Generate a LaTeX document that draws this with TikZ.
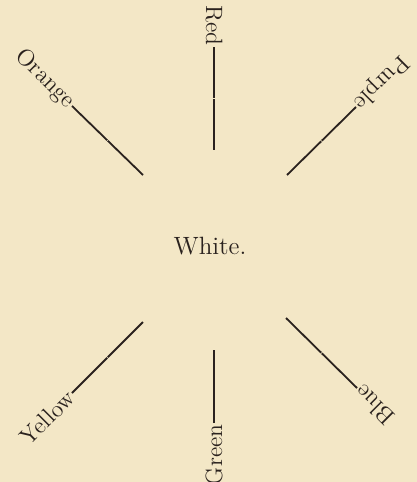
\documentclass[tikz,border=0pt]{standalone}
\usepackage{tikz}
\usetikzlibrary{calc}
\definecolor{paper}{HTML}{F3E7C6}
\definecolor{ink}{HTML}{2A221E}

\begin{document}
\begin{tikzpicture}[x=0.5pt,y=-0.5pt,
  lab/.style={anchor=east,inner sep=0.6pt,font=\fontsize{11.8}{13}\selectfont,text=ink},
  ray/.style={draw=ink,line width=0.9pt}]
\fill[paper] (0,0) rectangle (417,482);
\useasboundingbox (0,0) rectangle (417,482);
\node[font=\fontsize{12.5}{14}\selectfont,text=ink] (white) at (210,246) {White.};
% inner ends of the rays
\coordinate (red-in) at (214,150);
\coordinate (orange-in) at (143,175);
\coordinate (purple-in) at (287,175);
\coordinate (yellow-in) at (143,322);
\coordinate (green-in) at (214,350);
\coordinate (blue-in) at (286,318);
% labels at the outer ends
\node[lab,rotate=-90] (red) at (214,47) {Red};
\node[lab,rotate=-45] (orange) at (72,106) {Orange};
\node[lab,rotate=225] (purple) at (356,107) {Purple};
\node[lab,rotate=45] (yellow) at (72,393) {Yellow};
\node[lab,rotate=90] (green) at (214,423) {Green};
\node[lab,rotate=135] (blue) at (357,388) {Blue};
\foreach \c in {red,orange,purple,yellow,blue}
  \draw[ray] (\c.east) -- ($(\c.east)!0.495!(\c-in)$) ($(\c.east)!0.505!(\c-in)$) -- (\c-in);
\draw[ray] (green.east) -- (green-in);
\end{tikzpicture}
\end{document}
